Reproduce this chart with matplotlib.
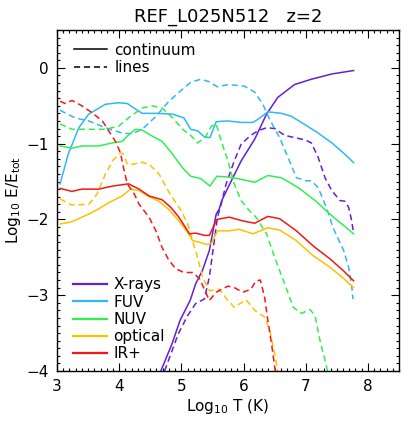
import numpy as np
import matplotlib
matplotlib.use("Agg")
import matplotlib.pyplot as plt
from matplotlib.lines import Line2D
from matplotlib.ticker import MultipleLocator

# ---------------- data ----------------
# X-rays
xray_cont_x = [4.67, 4.85, 4.98, 5.14, 5.23, 5.34, 5.45, 5.50, 5.56, 5.61, 5.65, 5.75, 5.96,
               6.18, 6.37, 6.55, 6.82, 7.09, 7.42, 7.77]
xray_cont_y = [-4.0, -3.64, -3.33, -3.07, -2.85, -2.67, -2.41, -2.19, -1.93, -1.86, -1.75, -1.58, -1.23,
               -0.94, -0.61, -0.39, -0.22, -0.15, -0.08, -0.035]
xray_line_x = [4.73, 4.95, 5.10, 5.23, 5.37, 5.45, 5.53, 5.58, 5.64, 5.72, 5.85, 5.96, 6.10, 6.23,
               6.37, 6.50, 6.66, 6.82, 6.99, 7.09, 7.20, 7.31, 7.42, 7.55, 7.63, 7.69, 7.74, 7.77]
xray_line_y = [-4.0, -3.51, -3.27, -3.11, -3.05, -2.76, -2.28, -1.97, -1.80, -1.53, -1.23, -1.01, -0.90, -0.83,
               -0.79, -0.80, -0.89, -0.92, -0.95, -0.99, -1.18, -1.45, -1.62, -1.75, -1.76, -1.84, -2.02, -2.19]

# FUV
fuv_cont_x = [3.05, 3.18, 3.35, 3.51, 3.78, 3.99, 4.13, 4.24, 4.37, 4.59, 4.86, 5.04, 5.15, 5.26,
              5.37, 5.46, 5.56, 5.75, 5.96, 6.15, 6.23, 6.39, 6.61, 6.77, 6.99, 7.20, 7.42, 7.63, 7.77]
fuv_cont_y = [-1.53, -1.14, -0.79, -0.61, -0.48, -0.46, -0.47, -0.53, -0.60, -0.60, -0.61, -0.66, -0.81, -0.83,
              -0.91, -0.92, -0.71, -0.70, -0.72, -0.72, -0.68, -0.58, -0.60, -0.64, -0.75, -0.86, -0.99, -1.14, -1.25]
fuv_line_x = [3.05, 3.29, 3.51, 3.78, 4.05, 4.21, 4.37, 4.59, 4.80, 5.02, 5.15, 5.31, 5.44, 5.58,
              5.75, 6.01, 6.18, 6.31, 6.42, 6.58, 6.74, 6.85, 7.01, 7.09, 7.20, 7.34, 7.44, 7.61,
              7.69, 7.74, 7.76]
fuv_line_y = [-0.56, -0.66, -0.70, -0.79, -0.86, -0.87, -0.81, -0.64, -0.44, -0.28, -0.19, -0.15, -0.18, -0.25,
              -0.22, -0.24, -0.32, -0.48, -0.68, -0.92, -1.23, -1.45, -1.49, -1.49, -1.58, -1.86, -2.11, -2.41,
              -2.63, -2.89, -3.05]

# NUV
nuv_cont_x = [3.05, 3.24, 3.40, 3.67, 3.89, 4.05, 4.13, 4.26, 4.37, 4.53, 4.69, 4.86, 5.02, 5.15,
              5.31, 5.46, 5.57, 5.75, 5.96, 6.18, 6.39, 6.61, 6.88, 7.15, 7.39, 7.61, 7.77]
nuv_cont_y = [-1.03, -1.06, -1.03, -1.03, -0.99, -0.97, -0.90, -0.81, -0.82, -0.90, -0.97, -1.14, -1.32, -1.43,
              -1.46, -1.56, -1.43, -1.44, -1.47, -1.51, -1.42, -1.45, -1.58, -1.75, -1.93, -2.08, -2.19]
nuv_line_x = [3.05, 3.24, 3.51, 3.78, 3.99, 4.18, 4.37, 4.53, 4.69, 4.86, 5.02, 5.15, 5.26, 5.39,
              5.48, 5.56, 5.64, 5.75, 5.85, 5.96, 6.10, 6.20, 6.37, 6.50, 6.66, 6.80, 6.93, 7.07,
              7.15, 7.23, 7.31, 7.35]
nuv_line_y = [-0.74, -0.81, -0.81, -0.81, -0.77, -0.64, -0.53, -0.50, -0.53, -0.66, -0.81, -0.89, -0.99, -0.91,
              -0.77, -0.74, -0.96, -1.23, -1.53, -1.75, -1.89, -1.97, -2.19, -2.50, -2.85, -3.16, -3.24, -3.19,
              -3.27, -3.60, -3.86, -4.0]

# optical
opt_cont_x = [3.05, 3.24, 3.51, 3.67, 3.83, 4.05, 4.18, 4.32, 4.48, 4.64, 4.80, 4.96, 5.10, 5.18,
              5.29, 5.40, 5.48, 5.58, 5.77, 5.93, 6.15, 6.39, 6.58, 6.85, 7.12, 7.39, 7.61, 7.77]
opt_cont_y = [-2.06, -2.03, -1.93, -1.86, -1.78, -1.69, -1.60, -1.62, -1.70, -1.76, -1.87, -2.02, -2.17, -2.28,
              -2.30, -2.33, -2.32, -2.15, -2.15, -2.13, -2.19, -2.11, -2.14, -2.28, -2.48, -2.63, -2.78, -2.90]
opt_line_x = [3.05, 3.24, 3.51, 3.64, 3.78, 3.91, 4.02, 4.07, 4.13, 4.24, 4.34, 4.48, 4.64, 4.80,
              4.88, 4.97, 5.10, 5.18, 5.26, 5.34, 5.45, 5.61, 5.75, 5.85, 6.04, 6.18, 6.34, 6.42,
              6.50, 6.55]
opt_line_y = [-1.73, -1.81, -1.80, -1.67, -1.40, -1.21, -1.12, -1.14, -1.27, -1.27, -1.24, -1.27, -1.40, -1.64,
              -1.74, -1.85, -2.05, -2.28, -2.50, -2.76, -2.94, -2.92, -3.07, -3.16, -3.06, -3.20, -3.29, -3.46,
              -3.77, -4.0]

# IR+
ir_cont_x = [3.05, 3.24, 3.40, 3.67, 3.89, 4.15, 4.32, 4.48, 4.69, 4.83, 4.96, 5.13, 5.23, 5.37,
             5.45, 5.57, 5.77, 5.99, 6.18, 6.39, 6.58, 6.85, 7.12, 7.39, 7.61, 7.77]
ir_cont_y = [-1.59, -1.63, -1.60, -1.60, -1.56, -1.53, -1.60, -1.69, -1.74, -1.84, -1.97, -2.19, -2.18, -2.21,
             -2.21, -2.00, -1.97, -2.02, -2.05, -1.96, -1.99, -2.15, -2.35, -2.52, -2.68, -2.81]
ir_line_x = [3.05, 3.13, 3.24, 3.40, 3.56, 3.73, 3.83, 3.94, 4.02, 4.07, 4.13, 4.24, 4.32, 4.48,
             4.59, 4.69, 4.80, 4.91, 5.04, 5.18, 5.29, 5.37, 5.45, 5.56, 5.75, 5.85, 5.99, 6.12,
             6.20, 6.27, 6.34, 6.39, 6.45, 6.51]
ir_line_y = [-0.44, -0.47, -0.43, -0.50, -0.59, -0.70, -0.83, -0.97, -1.12, -1.32, -1.53, -1.66, -1.80, -1.97,
             -2.15, -2.37, -2.54, -2.65, -2.70, -2.70, -2.78, -2.92, -3.07, -2.96, -2.88, -2.90, -2.96, -2.92,
             -2.81, -2.80, -3.03, -3.33, -3.64, -4.0]

bands = ['X-rays', 'FUV', 'NUV', 'optical', 'IR+']
colors = ['#6420D0', '#30B8F0', '#30F050', '#FFC000', '#F01818']
cont_x = [xray_cont_x, fuv_cont_x, nuv_cont_x, opt_cont_x, ir_cont_x]
cont_y = [xray_cont_y, fuv_cont_y, nuv_cont_y, opt_cont_y, ir_cont_y]
line_x = [xray_line_x, fuv_line_x, nuv_line_x, opt_line_x, ir_line_x]
line_y = [xray_line_y, fuv_line_y, nuv_line_y, opt_line_y, ir_line_y]

# ---------------- plot ----------------
plt.rcParams['font.family'] = 'DejaVu Sans'
fig = plt.figure(figsize=(4.07, 4.22), dpi=100)
ax = fig.add_axes([57/407, 1 - 371/422, 342/407, 341/422])

lw = 1.1
dash = (4, 2.5)
for i in range(len(bands)):
    ax.plot(cont_x[i], cont_y[i], '-', color=colors[i], lw=lw)
    ax.plot(line_x[i], line_y[i], '--', color=colors[i], lw=lw, dashes=dash)

ax.set_xlim(3, 8.5)
ax.set_ylim(-4, 0.5)
ax.xaxis.set_major_locator(MultipleLocator(1))
ax.xaxis.set_minor_locator(MultipleLocator(0.1))
ax.yaxis.set_major_locator(MultipleLocator(1))
ax.yaxis.set_minor_locator(MultipleLocator(0.1))
ax.tick_params(which='both', direction='in', top=True, right=True, labelsize=11, width=0.8)
ax.tick_params(which='major', length=6, pad=6)
ax.tick_params(which='minor', length=2.5)
for s in ax.spines.values():
    s.set_linewidth(1.0)

ax.set_title('REF_L025N512   z=2', fontsize=13, pad=6)
ax.set_xlabel(r'Log$_{\mathregular{10}}$ T (K)', fontsize=11, labelpad=2)
ax.set_ylabel(r'Log$_{\mathregular{10}}$ E/E$_{\mathregular{tot}}$', fontsize=11, labelpad=2)

# line style legend
style_handles = [Line2D([], [], color='black', lw=lw, ls='-'),
                 Line2D([], [], color='black', lw=lw, ls='--', dashes=dash)]
leg1 = ax.legend(style_handles, ['continuum', 'lines'], loc='upper left',
                 bbox_to_anchor=(0.049, 0.963), frameon=False, fontsize=11,
                 handlelength=2.2, handletextpad=0.45, labelspacing=0.15,
                 borderpad=0, borderaxespad=0)
ax.add_artist(leg1)

# colour legend
color_handles = [Line2D([], [], color=c, lw=1.6) for c in colors]
ax.legend(color_handles, bands, loc='lower left',
          bbox_to_anchor=(0.047, 0.028), frameon=False, fontsize=11,
          handlelength=2.2, handletextpad=0.45, labelspacing=0.15,
          borderpad=0, borderaxespad=0)

fig.savefig('out.png', dpi=100)
